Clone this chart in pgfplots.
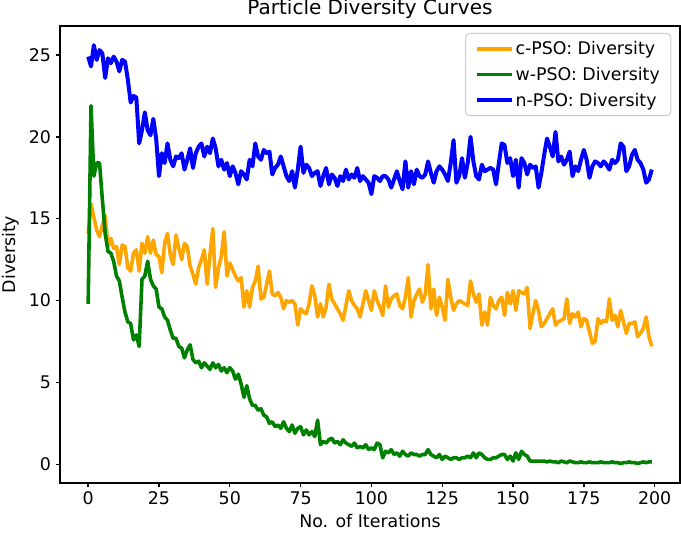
\documentclass[border=0pt]{standalone}
\usepackage{pgfplots}
\usepackage{pgfplotstable}
\usepackage{fontspec}
\setmainfont{DejaVu Sans}
\pgfplotsset{compat=1.18}
\definecolor{mplorange}{HTML}{FFA500}
\definecolor{mplgreen}{HTML}{008000}
\definecolor{mplblue}{HTML}{0000FF}
\pgfplotstableread{
i c w n
0 14.1 9.8 24.9
1 15.9 21.9 24.3
2 15.1 17.6 25.6
3 14.3 18.4 24.7
4 13.9 18.4 25.3
5 14.6 16.2 25.1
6 15.2 14.1 23.6
7 13.3 13.0 24.8
8 13.8 12.9 24.5
9 13.2 12.4 24.9
10 13.3 11.5 24.6
11 12.2 11.2 24.0
12 13.4 10.2 24.7
13 13.3 9.3 24.6
14 12.0 8.7 23.5
15 11.8 8.6 22.1
16 12.9 7.6 22.5
17 13.1 7.9 22.4
18 11.8 7.2 19.6
19 13.5 11.3 20.4
20 12.9 11.5 21.5
21 13.9 12.4 20.4
22 12.9 11.3 20.1
23 13.7 10.9 21.1
24 12.8 10.7 19.9
25 12.7 9.6 17.6
26 11.7 9.5 19.0
27 13.5 9.0 18.4
28 14.1 8.8 19.6
29 12.8 8.2 18.6
30 12.2 7.7 18.2
31 14.0 7.7 18.8
32 13.2 7.2 18.7
33 12.5 7.1 19.0
34 13.5 6.5 18.0
35 13.3 7.0 18.6
36 12.1 7.3 19.3
37 11.6 6.4 18.1
38 11.0 6.2 19.0
39 12.0 6.3 19.4
40 12.5 5.9 19.6
41 13.1 6.2 18.8
42 11.0 6.0 19.4
43 12.8 5.8 19.0
44 14.4 6.2 19.9
45 10.8 5.9 19.3
46 12.0 6.1 18.2
47 12.7 5.7 18.6
48 14.2 5.9 18.0
49 11.5 5.6 18.4
50 12.3 5.9 17.6
51 11.9 5.7 18.2
52 11.5 5.2 17.8
53 11.2 5.5 17.1
54 11.4 4.9 17.9
55 9.6 4.1 17.7
56 10.6 4.8 17.4
57 9.6 4.0 18.6
58 10.8 3.6 18.2
59 11.2 3.6 19.6
60 12.1 3.3 18.8
61 10.1 3.4 18.6
62 10.2 3.0 19.2
63 11.0 2.9 19.0
64 11.8 2.5 19.1
65 10.4 2.6 17.7
66 10.3 2.3 18.1
67 10.5 2.4 18.3
68 10.2 2.2 18.8
69 9.5 2.6 18.2
70 10.0 2.2 17.6
71 9.9 2.0 17.3
72 10.0 2.4 17.9
73 9.8 1.9 16.9
74 8.5 2.2 18.0
75 9.5 2.3 19.4
76 9.3 1.8 17.8
77 9.2 2.1 18.3
78 9.8 1.8 18.1
79 10.9 2.0 17.6
80 10.3 1.7 17.8
81 9.0 2.7 17.9
82 9.8 1.2 17.0
83 9.0 1.4 17.6
84 9.6 1.3 18.1
85 11.0 1.5 17.1
86 10.1 1.6 17.7
87 9.8 1.3 17.5
88 9.5 1.4 17.0
89 9.2 1.2 17.6
90 8.8 1.5 17.3
91 9.7 1.3 18.0
92 10.6 1.2 17.4
93 10.0 1.1 17.7
94 9.7 1.3 17.5
95 9.5 1.0 18.1
96 9.0 1.1 17.3
97 9.8 1.0 17.6
98 10.6 1.2 17.4
99 10.0 0.9 17.2
100 9.4 1.0 16.5
101 10.6 0.9 17.6
102 10.0 1.3 17.5
103 9.6 1.2 17.3
104 9.1 0.4 17.6
105 10.9 0.8 17.6
106 9.6 0.7 17.4
107 10.1 0.9 16.9
108 10.3 0.6 17.4
109 10.4 0.7 17.9
110 9.7 0.5 17.3
111 9.5 0.8 16.8
112 10.2 0.6 18.5
113 11.4 0.5 16.9
114 9.0 0.7 17.9
115 10.0 0.6 17.1
116 10.4 0.6 18.0
117 10.7 0.5 17.6
118 9.9 0.6 17.5
119 10.4 0.6 17.7
120 12.2 0.9 18.5
121 9.5 0.6 17.8
122 10.7 0.5 17.2
123 9.1 0.4 17.9
124 10.2 0.6 18.2
125 9.6 0.3 18.0
126 8.8 0.5 17.7
127 11.3 0.4 17.3
128 10.2 0.3 18.4
129 9.4 0.4 19.8
130 9.8 0.4 17.2
131 10.0 0.3 17.6
132 9.9 0.4 18.7
133 9.8 0.4 17.5
134 9.7 0.5 18.4
135 11.2 0.4 20.0
136 10.4 0.7 18.5
137 9.9 0.4 17.6
138 10.4 0.7 17.4
139 8.5 0.6 18.3
140 9.3 0.4 17.9
141 8.5 0.3 18.0
142 10.2 0.3 18.1
143 9.7 0.4 18.0
144 9.5 0.4 17.1
145 10.0 0.5 18.4
146 10.2 0.6 19.6
147 9.1 0.6 19.5
148 10.5 0.3 18.4
149 9.8 0.5 18.7
150 10.6 0.2 17.6
151 9.4 0.7 18.6
152 10.6 0.3 16.9
153 10.5 0.8 18.7
154 10.4 0.6 18.4
155 10.8 0.5 17.7
156 8.3 0.2 18.3
157 9.2 0.2 18.1
158 10.0 0.2 18.2
159 9.4 0.2 16.9
160 8.4 0.2 17.8
161 8.6 0.2 18.9
162 8.9 0.15 19.9
163 9.2 0.2 19.4
164 9.5 0.15 18.8
165 8.5 0.15 20.3
166 8.7 0.1 18.5
167 8.8 0.2 18.8
168 8.9 0.15 18.3
169 10.1 0.1 18.6
170 8.6 0.2 19.1
171 9.2 0.15 17.6
172 9.0 0.1 18.2
173 9.3 0.1 17.9
174 8.4 0.15 18.6
175 8.9 0.1 19.2
176 8.8 0.1 18.6
177 8.1 0.15 17.5
178 7.4 0.1 18.2
179 7.5 0.1 18.5
180 8.9 0.1 18.4
181 8.6 0.15 18.2
182 8.8 0.1 18.5
183 8.7 0.1 18.3
184 10.1 0.1 18.0
185 8.8 0.15 18.6
186 9.1 0.1 18.4
187 8.4 0.1 18.6
188 9.4 0.05 19.6
189 8.7 0.1 19.4
190 8.0 0.1 17.9
191 8.6 0.15 18.2
192 8.6 0.1 18.9
193 8.7 0.1 19.2
194 7.8 0.05 18.6
195 8.0 0.1 18.4
196 8.3 0.15 18.0
197 9.0 0.1 17.2
198 7.8 0.15 17.4
199 7.2 0.15 18.0
}\datatable
\begin{document}
\begin{tikzpicture}
\useasboundingbox (-60pt,-50pt) rectangle (621pt,483pt);
\begin{axis}[
  at={(0pt,0pt)}, anchor=south west,
  scale only axis, width=620pt, height=457pt,
  xmin=-9.95, xmax=208.95, ymin=-1.14, ymax=26.77,
  xtick={0,25,...,200}, ytick={0,5,...,25},
  tick pos=left, tick align=outside,
  major tick length=4.4pt,
  every tick/.style={black, line width=1.4pt},
  axis line style={line width=1.4pt},
  /pgf/number format/assume math mode=true,
  ticklabel style={font=\fontsize{17.4}{20}\selectfont},
  xticklabel style={yshift=-1pt},
  yticklabel style={xshift=-1pt},
  title={Particle Diversity Curves},
  title style={font=\fontsize{20}{23}\selectfont, at={(0.5,1)}, anchor=base, yshift=5pt, inner sep=0.5pt},
  xlabel={No. of Iterations},
  xlabel style={font=\fontsize{17.4}{20}\selectfont, at={(axis description cs:0.5,0)}, anchor=base, yshift=-45pt},
  ylabel={Diversity},
  ylabel style={font=\fontsize{17.4}{20}\selectfont, at={(axis description cs:-0.079,0.5)}, anchor=center},
  legend style={at={(1,1)}, anchor=north east, xshift=-8.7pt, yshift=-7pt,
    draw=black!20, line width=1pt, rounded corners=4pt, fill=white,
    font=\fontsize{17.4}{20}\selectfont, inner xsep=9pt, inner ysep=6pt,
    row sep=7pt},
  legend cell align=left,
  legend image code/.code={\draw[#1] (0pt,0pt) -- (35pt,0pt);},
]
\addplot[mplorange, line width=3.6pt, line join=round] table[x=i, y=c] {\datatable};
\addlegendentry{c-PSO: Diversity}
\addplot[mplgreen, line width=3.6pt, line join=round] table[x=i, y=w] {\datatable};
\addlegendentry{w-PSO: Diversity}
\addplot[mplblue, line width=4pt, line join=round] table[x=i, y=n] {\datatable};
\addlegendentry{n-PSO: Diversity}
\end{axis}
\end{tikzpicture}
\end{document}
